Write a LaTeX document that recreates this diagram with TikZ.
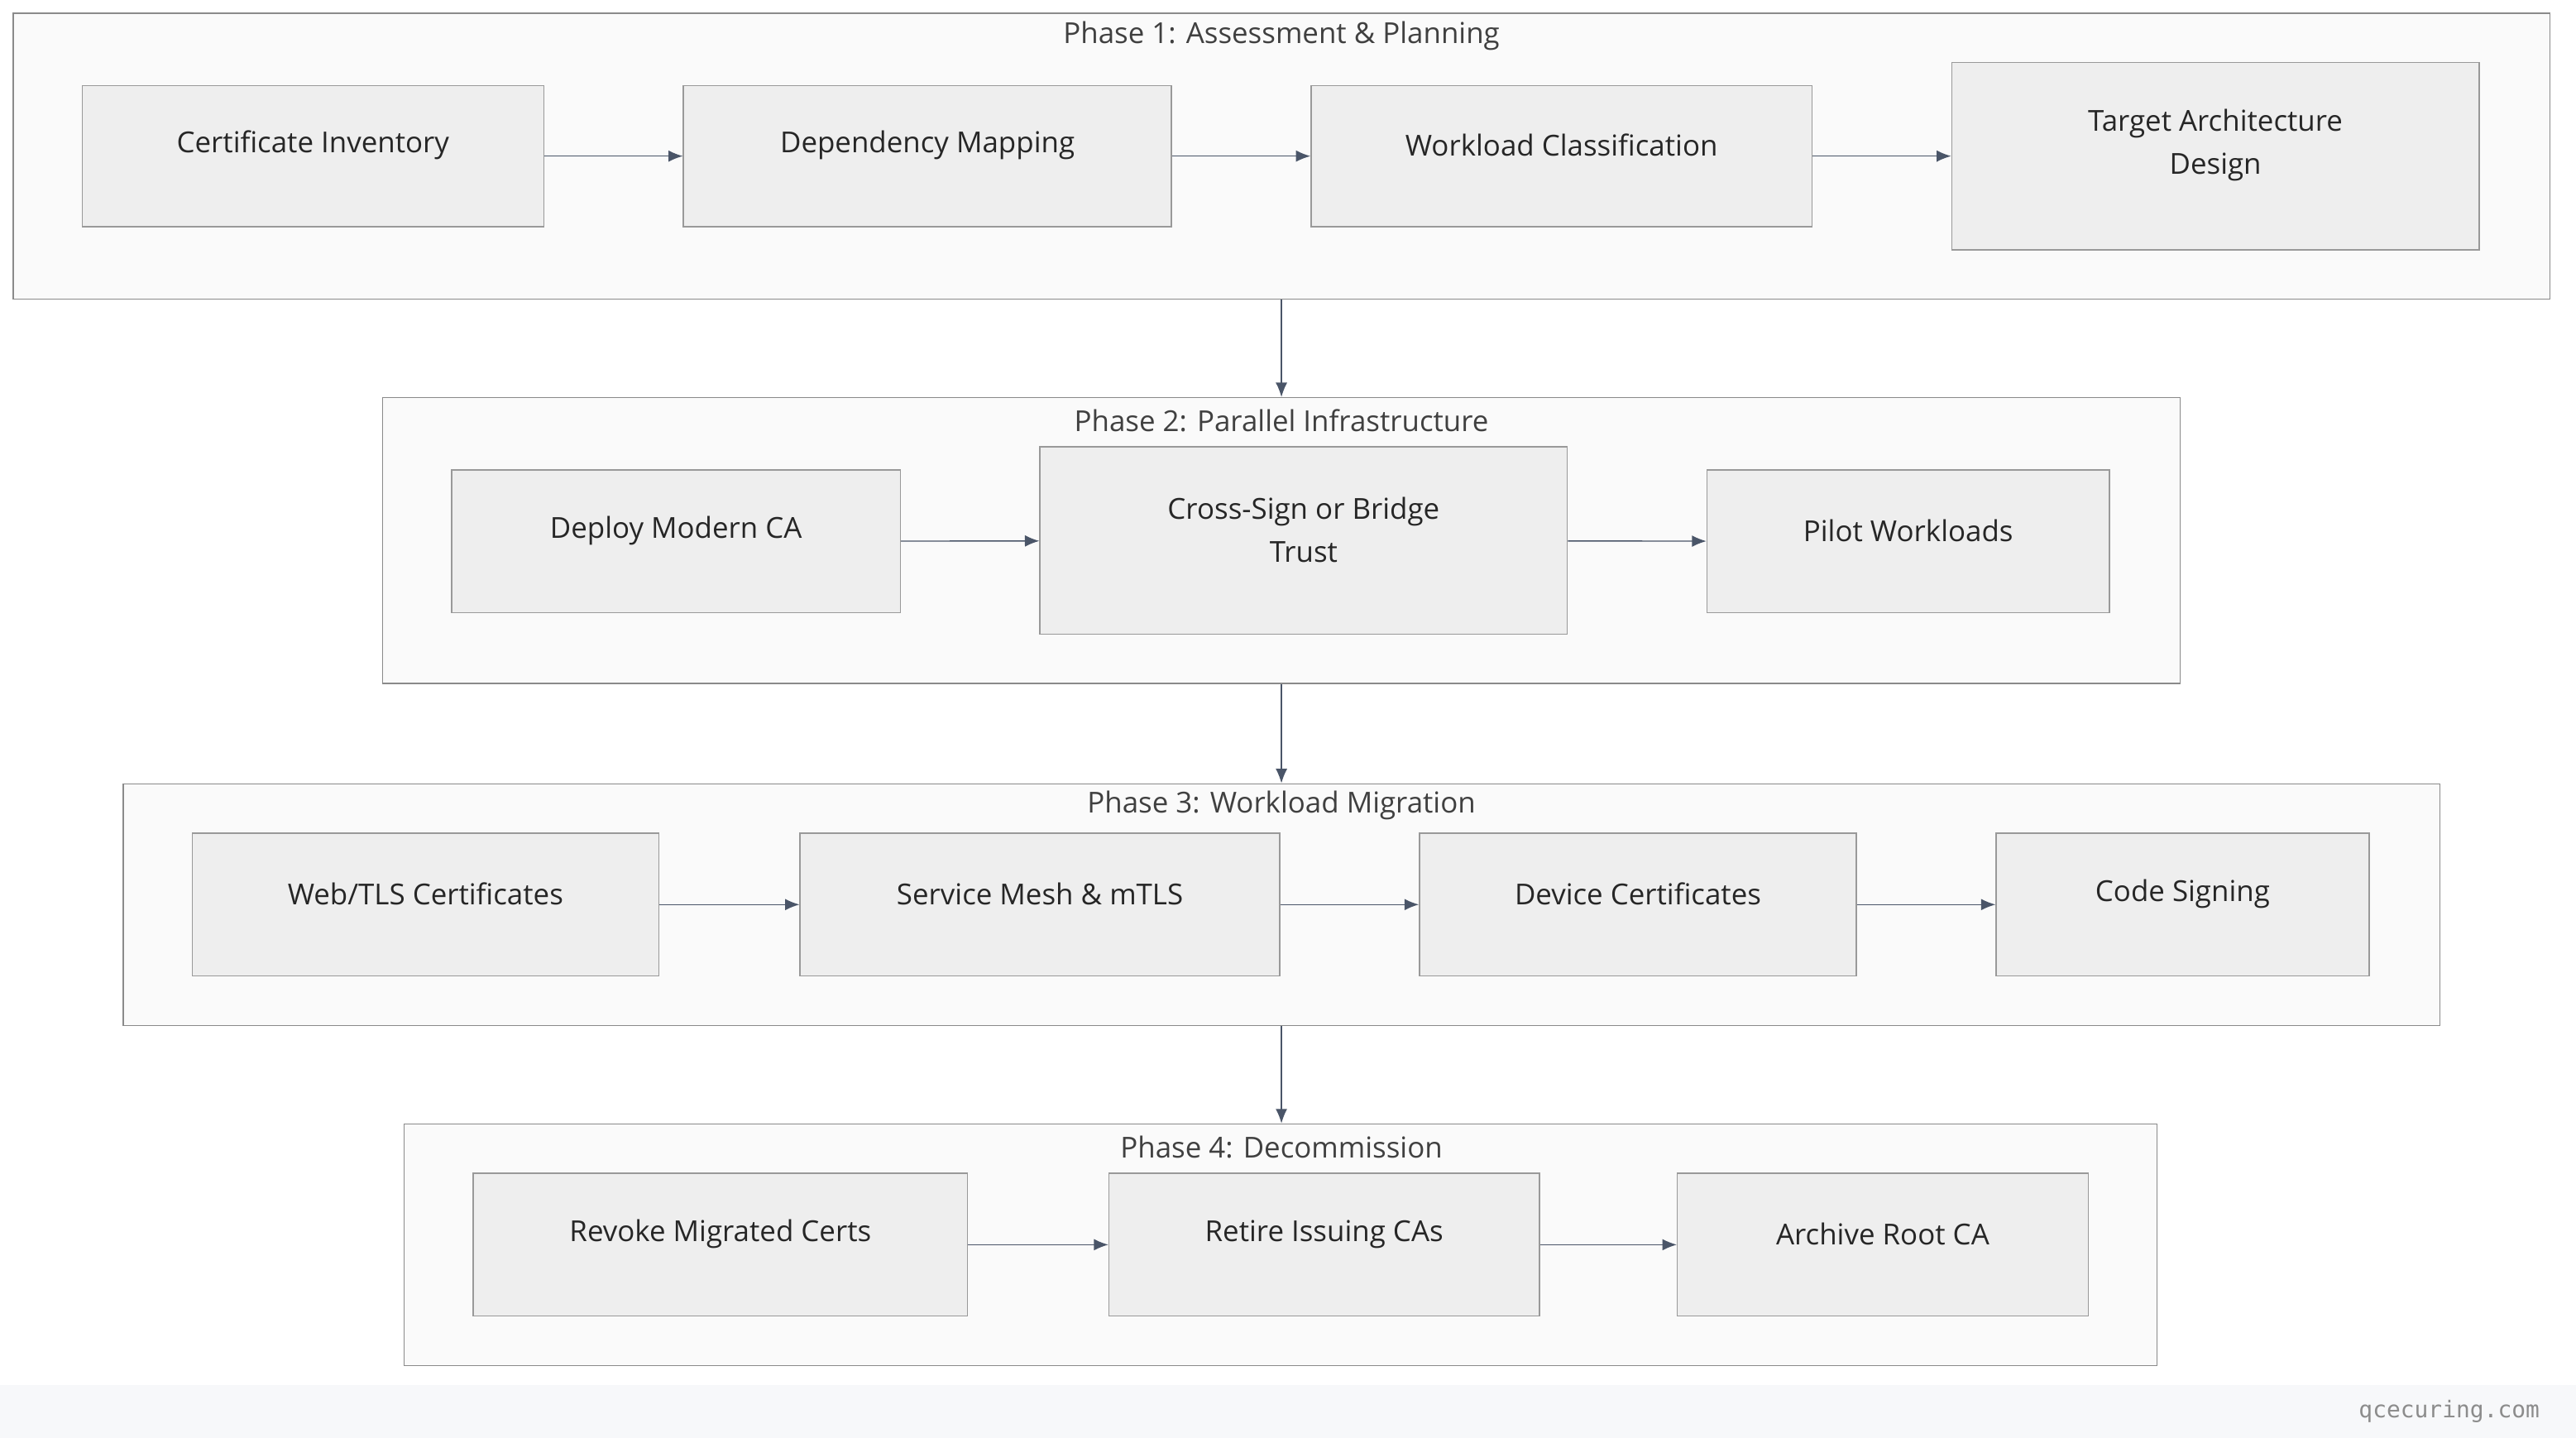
\documentclass[tikz,border=0pt]{standalone}
\usepackage{fontspec}
\setmainfont{Open Sans}
\setmonofont{DejaVu Sans Mono}
\usetikzlibrary{fit,arrows.meta}
\definecolor{procfill}{HTML}{EEEEEE}
\definecolor{procline}{HTML}{999999}
\definecolor{phasefill}{HTML}{FAFAFA}
\definecolor{phaseline}{HTML}{8A8A8A}
\definecolor{flowline}{HTML}{4A5568}
\definecolor{bandfill}{HTML}{F7F8FA}
\tikzset{
  proc/.style={draw=procline, fill=procfill, inner sep=0pt, align=center,
    font=\fontsize{10}{15}\selectfont, text=black!85},
  phase/.style={draw=phaseline, fill=phasefill, inner sep=0pt},
  phasetitle/.style={font=\fontsize{10}{12}\selectfont, text=black!75},
  flow/.style={draw=flowline, -{Latex[length=5pt,width=4pt]}}
}
\begin{document}
\begin{tikzpicture}[x=0.02cm,y=-0.02cm]
\useasboundingbox[fill=white] (0,0) rectangle (1568,875);
\fill[bandfill] (0,843) rectangle (1568,875);
\node[font=\ttfamily\fontsize{8}{10}\selectfont, text=black!45, anchor=east] (site) at (1552,859) {qcecuring.com};

% Phase 1
\node[phase, fit={(8,8) (1552,182)}] (ph1) {};
\node[phasetitle] (ph1t) at (780,22) {Phase 1: Assessment \& Planning};
\node[proc, fit={(50,52) (331,138)}] (cinv) {Certificate Inventory};
\node[proc, fit={(416,52) (713,138)}] (dmap) {Dependency Mapping};
\node[proc, fit={(798,52) (1103,138)}] (wcls) {Workload Classification};
\node[proc, fit={(1188,38) (1509,152)}] (tarch) {Target Architecture\\Design};

% Phase 2
\node[phase, fit={(233,242) (1327,416)}] (ph2) {};
\node[phasetitle] (ph2t) at (780,256) {Phase 2: Parallel Infrastructure};
\node[proc, fit={(275,286) (548,373)}] (dca) {Deploy Modern CA};
\node[proc, fit={(633,272) (954,386)}] (xsign) {Cross-Sign or Bridge\\Trust};
\node[proc, fit={(1039,286) (1284,373)}] (pilot) {Pilot Workloads};

% Phase 3
\node[phase, fit={(75,477) (1485,624)}] (ph3) {};
\node[phasetitle] (ph3t) at (780,490) {Phase 3: Workload Migration};
\node[proc, fit={(117,507) (401,594)}] (web) {Web/TLS Certificates};
\node[proc, fit={(487,507) (779,594)}] (mesh) {Service Mesh \& mTLS};
\node[proc, fit={(864,507) (1130,594)}] (dev) {Device Certificates};
\node[proc, fit={(1215,507) (1442,594)}] (code) {Code Signing};

% Phase 4
\node[phase, fit={(246,684) (1313,831)}] (ph4) {};
\node[phasetitle] (ph4t) at (780,698) {Phase 4: Decommission};
\node[proc, fit={(288,714) (589,801)}] (revoke) {Revoke Migrated Certs};
\node[proc, fit={(675,714) (937,801)}] (retire) {Retire Issuing CAs};
\node[proc, fit={(1021,714) (1271,801)}] (archive) {Archive Root CA};

% flows
\draw[flow] (cinv) -- (dmap);
\draw[flow] (dmap) -- (wcls);
\draw[flow] (wcls) -- (tarch);
\draw[flow] (dca) -- (xsign);
\draw[flow] (xsign) -- (pilot);
\draw[flow] (web) -- (mesh);
\draw[flow] (mesh) -- (dev);
\draw[flow] (dev) -- (code);
\draw[flow] (revoke) -- (retire);
\draw[flow] (retire) -- (archive);
\draw[flow] (ph1.south -| ph1t) -- (ph2.north -| ph1t);
\draw[flow] (ph2.south -| ph1t) -- (ph3.north -| ph1t);
\draw[flow] (ph3.south -| ph1t) -- (ph4.north -| ph1t);
\end{tikzpicture}
\end{document}
